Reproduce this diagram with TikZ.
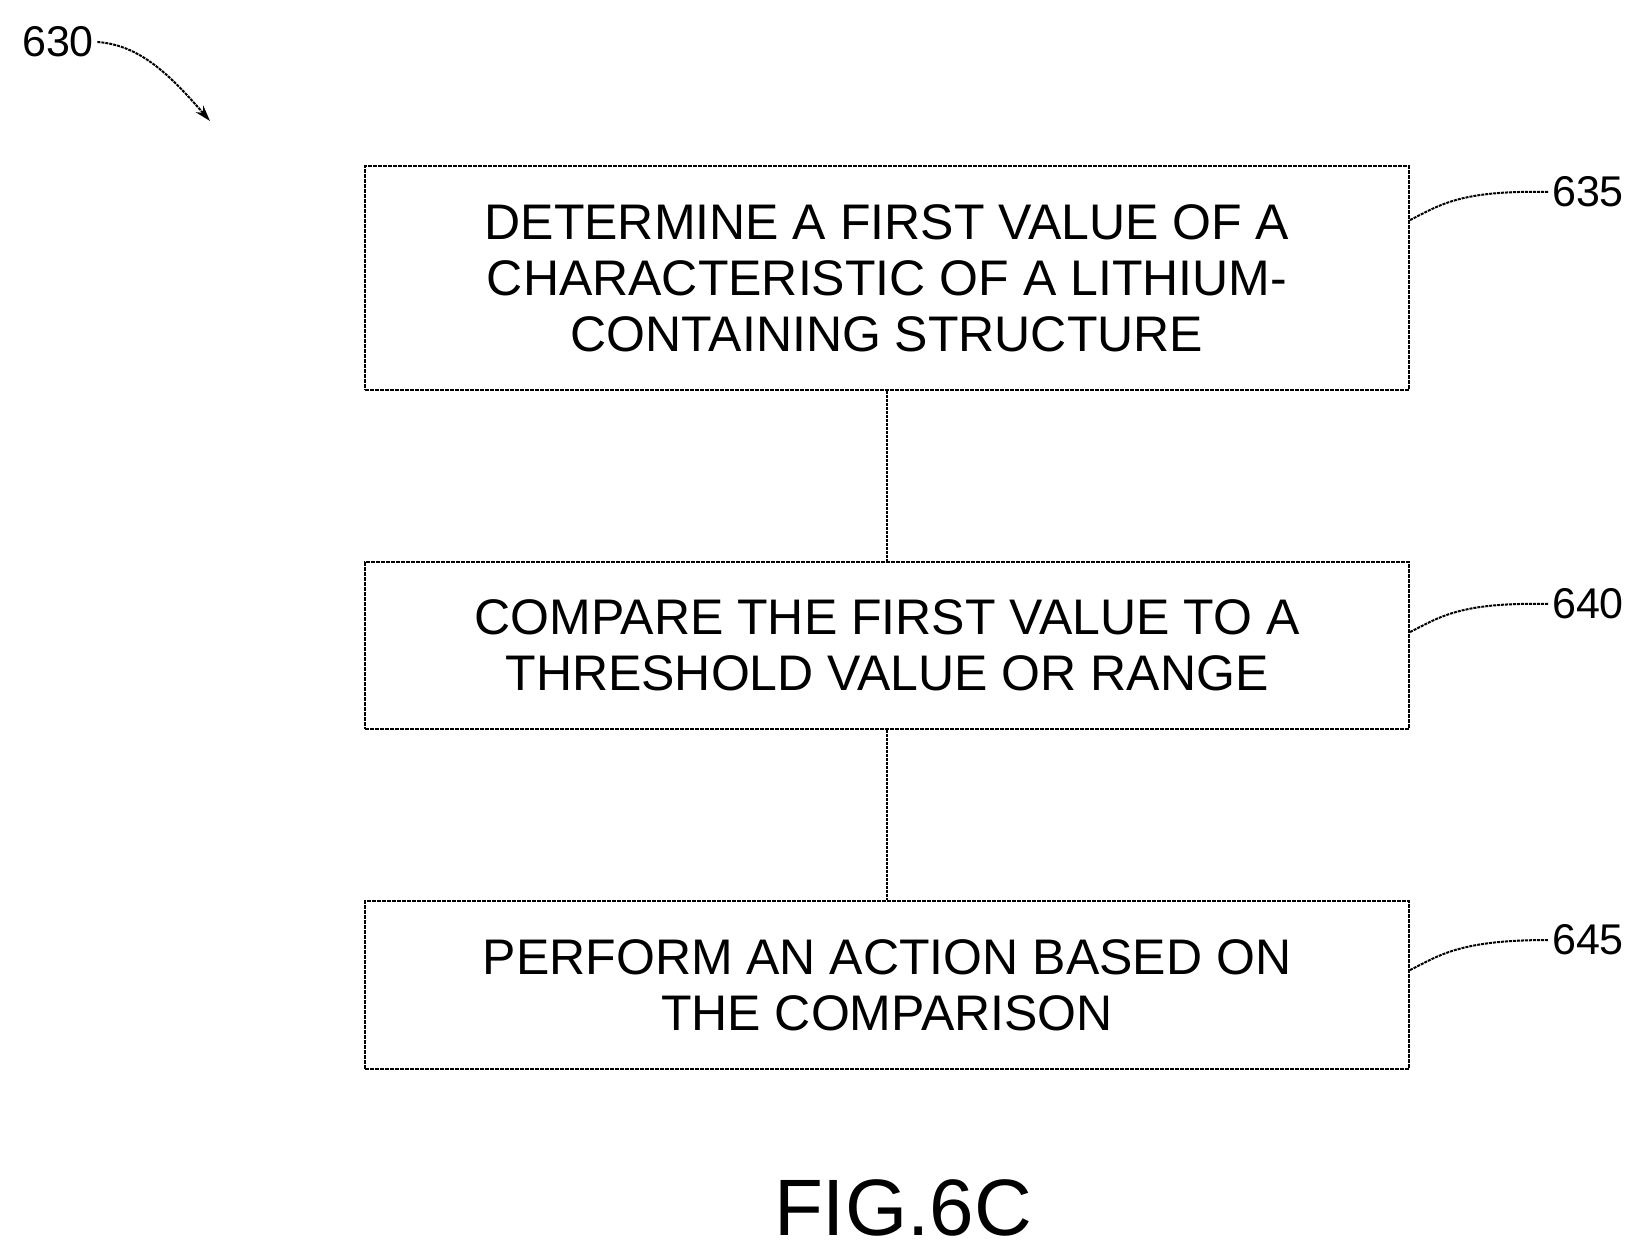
\documentclass[tikz,border=0pt]{standalone}
\usepackage{fontspec}
\setmainfont{Liberation Sans}
\usetikzlibrary{arrows.meta,positioning}

\tikzset{
  flowbox/.style={draw, line width=2.2pt, dash pattern=on 4pt off 1pt, minimum width=1044pt, align=center,
    font=\fontsize{50}{56}\selectfont, inner sep=0pt},
  ref/.style={font=\fontsize{43}{43}\selectfont},
  lead/.style={line width=2pt, dash pattern=on 3pt off 1pt},
}

\begin{document}
\begin{tikzpicture}[x=1pt,y=-1pt]
\useasboundingbox (0,0) rectangle (1646,1256);

% process steps
\node[flowbox, minimum height=224pt] (s635) at (887,278) {DETERMINE A FIRST VALUE OF A\\CHARACTERISTIC OF A LITHIUM-\\CONTAINING STRUCTURE};
\node[flowbox, minimum height=167pt] (s640) at (887,645.5) {COMPARE THE FIRST VALUE TO A\\THRESHOLD VALUE OR RANGE};
\node[flowbox, minimum height=168pt] (s645) at (887,985) {PERFORM AN ACTION BASED ON\\THE COMPARISON};

\draw[lead] (s635) -- (s640);
\draw[lead] (s640) -- (s645);

% reference numerals
\node[ref] (n635) at (1588,192) {635};
\node[ref] (n640) at (1588,604) {640};
\node[ref] (n645) at (1588,940) {645};
\draw[lead] (s635.east |- 0,220) .. controls (1440,205) and (1460,190) .. (n635.west);
\draw[lead] (s640.east |- 0,632) .. controls (1440,617) and (1460,602) .. (n640.west);
\draw[lead] (s645.east |- 0,970) .. controls (1440,955) and (1460,940) .. (n645.west);

\node[ref] (n630) at (58,42) {630};
\coordinate (c630) at (210,121);
\draw[lead, -{Stealth[length=16pt,width=10pt]}] (n630.east) .. controls (140,45) and (170,75) .. (c630);

\node[font=\fontsize{80}{80}\selectfont] (fig) at (903,1208) {FIG.6C};
\end{tikzpicture}
\end{document}
